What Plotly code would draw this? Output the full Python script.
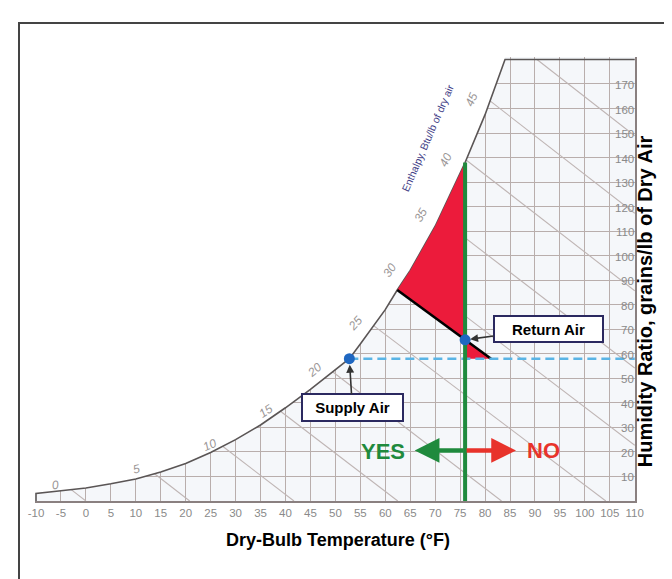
import plotly.graph_objects as go

# ---------------- data ----------------
# saturation curve (dry-bulb °F, humidity ratio grains/lb)
sat_T = [-10, -5, 0, 5, 10, 15, 20, 25, 30, 35, 40, 45, 50, 52.8, 55, 60, 62.4, 65, 70, 75, 76, 80, 84]
sat_W = [3.1, 4.2, 5.3, 7.0, 9.0, 11.8, 15.3, 19.8, 25.0, 31.0, 38.0, 45.5, 53.5, 58.0, 64.0, 78.0, 86.0, 94.0, 112.0, 133.5, 138.0, 157.5, 180.0]

# enthalpy lines (Btu/lb of dry air) : start on the curve / top, end on bottom / right edge
enthalpy = [0, 5, 10, 15, 20, 25, 30, 35, 40, 45, 50]
enth_T0 = [-2.95, 13.7, 27.4, 39.0, 49.5, 57.65, 64.7, 70.8, 76.2, 81.0, 90.4]
enth_W0 = [4.66, 11.2, 22.3, 36.6, 52.6, 71.5, 93.0, 115.4, 139.0, 163.1, 180.0]
enth_T1 = [0, 20.8, 41.7, 62.5, 83.3, 104.2, 110, 110, 110, 110, 110]
enth_W1 = [0, 0, 0, 0, 0, 0, 22.7, 54.2, 85.7, 117.3, 148.9]
enth_labels = ["0", "5", "10", "15", "20", "25", "30", "35", "40", "45"]

x_ticks = list(range(-10, 115, 5))
y_ticks = list(range(10, 180, 10))
T_min, T_max, W_top = -10, 110, 180

supply_T, supply_W = 52.8, 58.0
return_T, return_W = 76.0, 65.7
coil_T = [62.4, 76.0, 81.2]      # enthalpy line through return air
coil_W = [86.0, 65.7, 58.0]
limit_T = 76.0                    # YES / NO boundary (dry bulb)
arrow_W = 20.6
yes_tip_T = 65.9
no_tip_T = 86.2

# ---------------- styles ----------------
GRID = "#b9aeac"
ENTH = "#bfb5b4"
OUTLINE = "#5a5555"
RED = "#ec1b3b"
GREEN = "#1f8a3d"
ARROW_RED = "#e8332b"
BLUE_DOT = "#1f67c1"
DASH = "#5ab4e5"
NAVY = "#2b2960"
TICK = "#8a8a8a"
FONT = "Arial, Liberation Sans, sans-serif"

fig = go.Figure()

# white cover above the saturation curve (hides the grid there)
fig.add_trace(go.Scatter(
    x=[-14] + sat_T + [sat_T[-1], -14],
    y=[sat_W[0]] + sat_W + [190, 190],
    fill="toself", fillcolor="white", mode="lines", line=dict(width=0),
    hoverinfo="skip", showlegend=False))

# enthalpy lines
ex, ey = [], []
for a, b, c, d in zip(enth_T0, enth_W0, enth_T1, enth_W1):
    ex += [a, c, None]
    ey += [b, d, None]
fig.add_trace(go.Scatter(x=ex, y=ey, mode="lines", line=dict(color=ENTH, width=1.1),
                         hoverinfo="skip", showlegend=False))

# chart outline: left stub, saturation curve, top edge
fig.add_trace(go.Scatter(
    x=[T_min, T_min] + sat_T + [T_max],
    y=[0, sat_W[0]] + sat_W + [W_top],
    mode="lines", line=dict(color=OUTLINE, width=1.6),
    hoverinfo="skip", showlegend=False))

# red regions
big_T = [t for t in sat_T if coil_T[0] <= t <= limit_T]
big_W = [w for t, w in zip(sat_T, sat_W) if coil_T[0] <= t <= limit_T]
fig.add_trace(go.Scatter(
    x=big_T + [return_T, coil_T[0]], y=big_W + [return_W, coil_W[0]],
    fill="toself", fillcolor=RED, mode="lines", line=dict(width=0),
    hoverinfo="skip", showlegend=False))
fig.add_trace(go.Scatter(
    x=[return_T, coil_T[2], return_T, return_T], y=[return_W, coil_W[2], supply_W, return_W],
    fill="toself", fillcolor=RED, mode="lines", line=dict(width=0),
    hoverinfo="skip", showlegend=False))

# black enthalpy line through return air
fig.add_trace(go.Scatter(x=coil_T, y=coil_W, mode="lines", line=dict(color="black", width=2.6),
                         hoverinfo="skip", showlegend=False))

# dashed supply humidity ratio line
fig.add_trace(go.Scatter(x=[supply_T, T_max], y=[supply_W, supply_W], mode="lines",
                         line=dict(color=DASH, width=2.6, dash="9px,5px"),
                         hoverinfo="skip", showlegend=False))

# green limit line
fig.add_trace(go.Scatter(x=[limit_T, limit_T], y=[0, sat_W[sat_T.index(limit_T)]], mode="lines",
                         line=dict(color=GREEN, width=4), hoverinfo="skip", showlegend=False))

# points
fig.add_trace(go.Scatter(x=[supply_T, return_T], y=[supply_W, return_W], mode="markers",
                         marker=dict(color=BLUE_DOT, size=11), hoverinfo="skip", showlegend=False))

ann = []
# humidity-ratio scale labels, right-aligned against the right edge of the chart
for v in y_ticks:
    ann.append(dict(x=T_max, y=v, xref="x", yref="y", text=str(v), showarrow=False,
                    xanchor="right", yanchor="middle", xshift=1.5, yshift=-1,
                    font=dict(family=FONT, size=11.5, color=TICK)))

# YES / NO arrows
ann.append(dict(x=yes_tip_T, y=arrow_W, ax=limit_T, ay=arrow_W, xref="x", yref="y", axref="x", ayref="y",
                text="", showarrow=True, arrowhead=2, arrowsize=1.1, arrowwidth=4.5, arrowcolor=GREEN))
ann.append(dict(x=no_tip_T, y=arrow_W, ax=limit_T, ay=arrow_W, xref="x", yref="y", axref="x", ayref="y",
                text="", showarrow=True, arrowhead=2, arrowsize=1.1, arrowwidth=4.5, arrowcolor=ARROW_RED))
ann.append(dict(x=59.6, y=20.2, xref="x", yref="y", text="YES", showarrow=False,
                font=dict(family=FONT, size=22, color=GREEN, weight="bold")))
ann.append(dict(x=91.8, y=20.6, xref="x", yref="y", text="NO", showarrow=False,
                font=dict(family=FONT, size=22, color=ARROW_RED, weight="bold")))

# callout boxes
ann.append(dict(x=return_T, y=return_W, xref="x", yref="y", text="<b>Return Air</b>",
                showarrow=True, ax=83, ay=-11, arrowhead=2, arrowsize=1, arrowwidth=1.6,
                arrowcolor="#333333", standoff=5, bgcolor="white", bordercolor=NAVY,
                borderwidth=2, borderpad=1, width=105, height=22,
                font=dict(family=FONT, size=15, color="black")))
ann.append(dict(x=supply_T, y=supply_W, xref="x", yref="y", text="<b>Supply Air</b>",
                showarrow=True, ax=3, ay=49, arrowhead=2, arrowsize=1, arrowwidth=1.6,
                arrowcolor="#333333", standoff=6, bgcolor="white", bordercolor=NAVY,
                borderwidth=2, borderpad=1, width=97, height=23,
                font=dict(family=FONT, size=15, color="black")))

# enthalpy scale labels along the curve
label_pos = [(-6.1, 6.6, -8), (10.2, 13.0, -13), (24.8, 22.9, -24), (36.1, 36.7, -34),
             (45.8, 53.5, -40), (54.1, 72.5, -48), (60.9, 94.1, -56), (67.1, 116.6, -61),
             (72.1, 139.0, -64), (77.4, 163.7, -67)]
for lab, (lx, ly, ang) in zip(enth_labels, label_pos):
    ann.append(dict(x=lx, y=ly, xref="x", yref="y", text=lab, showarrow=False, textangle=ang,
                    font=dict(family=FONT, size=12, color="#9a9696", style="italic")))
ann.append(dict(x=68.5, y=147.9, xref="x", yref="y", text="Enthalpy, Btu/lb of dry air",
                showarrow=False, textangle=-66.5,
                font=dict(family=FONT, size=10.4, color="#3f3d86")))

# axis titles
ann.append(dict(x=(330 - 27) / 600, y=0, xref="paper", yref="paper", yshift=-39, yanchor="middle",
                text="<b>Dry-Bulb Temperature (°F)</b>", showarrow=False,
                font=dict(family=FONT, size=18, color="black")))
ann.append(dict(x=(650 - 27) / 600, y=0.45, xref="paper", yref="paper", textangle=-90,
                text="<b>Humidity Ratio, grains/lb of Dry Air</b>", showarrow=False,
                font=dict(family=FONT, size=20, color="black")))

fig.update_layout(
    width=672, height=579,
    margin=dict(l=27, r=45, t=49, b=86),
    paper_bgcolor="white", plot_bgcolor="#f5f7fa",
    showlegend=False,
    annotations=ann,
    shapes=[dict(type="rect", xref="paper", yref="paper",
                 x0=(11 - 27) / 600, x1=(666 - 27) / 600,
                 y0=(493 - 578) / 444, y1=(493 - 15) / 444,
                 line=dict(color="#444444", width=2), fillcolor="rgba(0,0,0,0)", layer="below")],
    xaxis=dict(range=[-10.2, 110.05], tickvals=x_ticks, ticktext=[str(v) for v in x_ticks],
               showgrid=True, gridcolor=GRID, gridwidth=1.3, zeroline=False,
               showline=True, linecolor="#8a8080", linewidth=1.6, ticks="",
               tickfont=dict(family=FONT, size=11.5, color=TICK)),
    yaxis=dict(range=[0, 181], side="right", tickvals=y_ticks, showticklabels=False,
               showgrid=True, gridcolor=GRID, gridwidth=1.3, zeroline=False,
               showline=True, linecolor="#8a8080", linewidth=1.6, ticks=""),
)

fig.write_html("out.html")
